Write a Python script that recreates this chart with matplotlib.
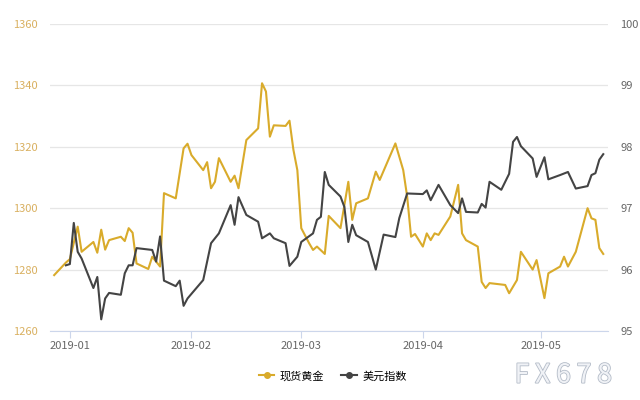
import matplotlib
matplotlib.use("Agg")
import matplotlib.pyplot as plt
import matplotlib.dates as mdates
import pandas as pd
import matplotlib.patheffects as pe

plt.rcParams['font.family'] = ['Noto Sans CJK SC', 'DejaVu Sans']

gold_dates = ["2018-12-28", "2018-12-31", "2019-01-01", "2019-01-03", "2019-01-04", "2019-01-07",
              "2019-01-08", "2019-01-09", "2019-01-10", "2019-01-11", "2019-01-14", "2019-01-15",
              "2019-01-16", "2019-01-17", "2019-01-18", "2019-01-21", "2019-01-22", "2019-01-23",
              "2019-01-24", "2019-01-25", "2019-01-28", "2019-01-30", "2019-01-31", "2019-02-01",
              "2019-02-04", "2019-02-05", "2019-02-06", "2019-02-07", "2019-02-08", "2019-02-11",
              "2019-02-12", "2019-02-13", "2019-02-15", "2019-02-18", "2019-02-19", "2019-02-20",
              "2019-02-21", "2019-02-22", "2019-02-25", "2019-02-26", "2019-02-27", "2019-02-28",
              "2019-03-01", "2019-03-03", "2019-03-04", "2019-03-05", "2019-03-07", "2019-03-08",
              "2019-03-11", "2019-03-13", "2019-03-14", "2019-03-15", "2019-03-18", "2019-03-20",
              "2019-03-21", "2019-03-25", "2019-03-27", "2019-03-28", "2019-03-29", "2019-03-30",
              "2019-04-01", "2019-04-02", "2019-04-03", "2019-04-04", "2019-04-05", "2019-04-08",
              "2019-04-10", "2019-04-11", "2019-04-12", "2019-04-15", "2019-04-16", "2019-04-17",
              "2019-04-18", "2019-04-22", "2019-04-23", "2019-04-25", "2019-04-26", "2019-04-29",
              "2019-04-30", "2019-05-02", "2019-05-03", "2019-05-06", "2019-05-07", "2019-05-08",
              "2019-05-10", "2019-05-13", "2019-05-14", "2019-05-15", "2019-05-16", "2019-05-17"]
gold_values = [1278.2, 1282.3, 1283.4, 1294.0, 1285.8, 1289.0,
               1285.5, 1293.0, 1286.5, 1289.6, 1290.7, 1289.3,
               1293.5, 1292.0, 1282.0, 1280.2, 1284.2, 1282.6,
               1281.0, 1304.9, 1303.2, 1319.5, 1321.0, 1317.3,
               1312.4, 1315.0, 1306.5, 1308.6, 1316.3, 1308.6,
               1310.6, 1306.5, 1322.2, 1326.0, 1340.7, 1338.0,
               1323.3, 1327.0, 1326.8, 1328.5, 1319.0, 1312.4,
               1293.5, 1288.6, 1286.4, 1287.5, 1285.1, 1297.5,
               1293.5, 1308.6, 1296.2, 1301.6, 1303.2, 1311.9,
               1309.2, 1321.1, 1312.4, 1303.8, 1290.7, 1291.6,
               1287.5, 1291.8, 1289.6, 1291.8, 1291.3, 1297.3,
               1307.6, 1291.8, 1289.6, 1287.5, 1276.0, 1274.0,
               1275.6, 1275.0, 1272.3, 1276.6, 1285.8, 1280.0,
               1283.1, 1270.7, 1278.8, 1281.0, 1284.2, 1281.0,
               1285.8, 1300.0, 1296.7, 1296.2, 1287.0, 1285.1]

dxy_dates = ["2018-12-31", "2019-01-01", "2019-01-02", "2019-01-03", "2019-01-04", "2019-01-07",
             "2019-01-08", "2019-01-09", "2019-01-10", "2019-01-11", "2019-01-14", "2019-01-15",
             "2019-01-16", "2019-01-17", "2019-01-18", "2019-01-22", "2019-01-23", "2019-01-24",
             "2019-01-25", "2019-01-28", "2019-01-29", "2019-01-30", "2019-01-31", "2019-02-04",
             "2019-02-06", "2019-02-08", "2019-02-11", "2019-02-12", "2019-02-13", "2019-02-15",
             "2019-02-18", "2019-02-19", "2019-02-21", "2019-02-22", "2019-02-25", "2019-02-26",
             "2019-02-28", "2019-03-01", "2019-03-04", "2019-03-05", "2019-03-06", "2019-03-07",
             "2019-03-08", "2019-03-11", "2019-03-12", "2019-03-13", "2019-03-14", "2019-03-15",
             "2019-03-18", "2019-03-20", "2019-03-22", "2019-03-25", "2019-03-26", "2019-03-28",
             "2019-04-01", "2019-04-02", "2019-04-03", "2019-04-05", "2019-04-08", "2019-04-10",
             "2019-04-11", "2019-04-12", "2019-04-15", "2019-04-16", "2019-04-17", "2019-04-18",
             "2019-04-21", "2019-04-23", "2019-04-24", "2019-04-25", "2019-04-26", "2019-04-29",
             "2019-04-30", "2019-05-02", "2019-05-03", "2019-05-06", "2019-05-08", "2019-05-10",
             "2019-05-13", "2019-05-14", "2019-05-15", "2019-05-16", "2019-05-17"]
dxy_values = [96.07, 96.09, 96.76, 96.29, 96.18, 95.70,
              95.88, 95.19, 95.53, 95.62, 95.59, 95.94,
              96.07, 96.07, 96.35, 96.32, 96.13, 96.54,
              95.82, 95.73, 95.82, 95.41, 95.53, 95.83,
              96.43, 96.59, 97.05, 96.73, 97.18, 96.89,
              96.78, 96.51, 96.59, 96.51, 96.43, 96.06,
              96.21, 96.45, 96.59, 96.81, 96.86, 97.59,
              97.38, 97.19, 97.02, 96.45, 96.73, 96.56,
              96.45, 96.00, 96.57, 96.53, 96.84, 97.24,
              97.23, 97.29, 97.13, 97.38, 97.05, 96.92,
              97.16, 96.94, 96.93, 97.07, 97.01, 97.43,
              97.30, 97.56, 98.08, 98.16, 98.01, 97.81,
              97.51, 97.83, 97.47, 97.54, 97.59, 97.32,
              97.36, 97.54, 97.57, 97.79, 97.88]

left_ticks = [1260, 1280, 1300, 1320, 1340, 1360]
right_ticks = [95, 96, 97, 98, 99, 100]
month_ticks = ["2019-01-01", "2019-02-01", "2019-03-01", "2019-04-01", "2019-05-01"]

gold_color = "#d9ab2b"
dxy_color = "#444444"

fig = plt.figure(figsize=(6.4, 4.0), dpi=100)
ax = fig.add_axes([0.078, 0.1725, 0.872, 0.7675])
ax2 = ax.twinx()

gd = pd.to_datetime(gold_dates)
dd = pd.to_datetime(dxy_dates)
ax.plot(gd, gold_values, color=gold_color, lw=1.5, zorder=3)
ax2.plot(dd, dxy_values, color=dxy_color, lw=1.5, zorder=3)

ax.set_ylim(1260, 1360)
ax2.set_ylim(95, 100)
ax.set_yticks(left_ticks)
ax2.set_yticks(right_ticks)
ax.set_xlim(pd.Timestamp("2018-12-26 22:00"), pd.Timestamp("2019-05-18 05:00"))
ax.set_xticks(pd.to_datetime(month_ticks))
ax.xaxis.set_major_formatter(mdates.DateFormatter("%Y-%m"))

ax.grid(axis='y', color='#e6e6e6', lw=0.9)
ax.set_axisbelow(True)
for a in (ax, ax2):
    for s in ("top", "left", "right"):
        a.spines[s].set_visible(False)
    a.spines["bottom"].set_color("#ccd6eb")
ax2.spines["bottom"].set_visible(False)

ax.tick_params(axis='y', length=0, labelsize=8, labelcolor="#d9b060", pad=9)
ax2.tick_params(axis='y', length=0, labelsize=8, labelcolor="#666666", pad=9)
ax.tick_params(axis='x', length=5, color="#ccd6eb", labelsize=8, labelcolor="#666666", pad=2)

h1, = ax.plot([], [], color=gold_color, lw=1.5, marker='o', ms=4, label="现货黄金")
h2, = ax.plot([], [], color=dxy_color, lw=1.5, marker='o', ms=4, label="美元指数")
fig.legend(handles=[h1, h2], loc='center', bbox_to_anchor=(0.52, 0.06), ncol=2,
           frameon=False, fontsize=8, handlelength=1.4, columnspacing=1.5, handletextpad=0.5)

fig.text(0.88, 0.062, "F X 6 7 8", fontsize=19, color="#f0f2f6", ha='center', va='center',
         path_effects=[pe.withStroke(linewidth=1.2, foreground="#b4bcc8")])

fig.savefig("out.png", dpi=100, facecolor="white")
